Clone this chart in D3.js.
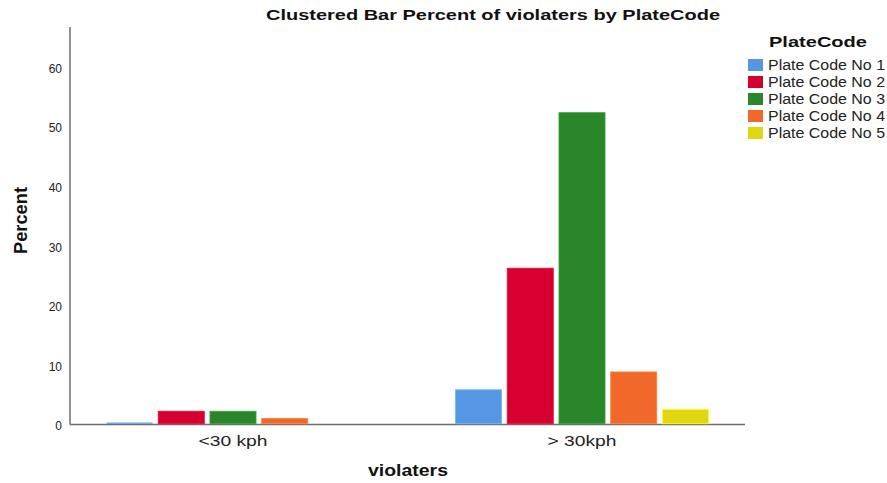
<!DOCTYPE html>
<html>
<head>
<meta charset="utf-8">
<script src="https://cdn.jsdelivr.net/npm/d3@7"></script>
<style>
  html, body { margin: 0; padding: 0; background: #ffffff; }
  svg { display: block; font-family: "Liberation Sans", Arial, sans-serif; }
</style>
</head>
<body>
<svg id="chart" width="887" height="483"></svg>
<script>
// ---- Data ----
const categories = ["<30 kph", "> 30kph"];
const seriesNames = ["Plate Code No 1", "Plate Code No 2", "Plate Code No 3", "Plate Code No 4", "Plate Code No 5"];
const plateCode1 = [0.2, 5.7];
const plateCode2 = [2.1, 26.1];
const plateCode3 = [2.1, 52.2];
const plateCode4 = [0.9, 8.7];
const plateCode5 = [0.0, 2.4];
const yTickValues = [0, 10, 20, 30, 40, 50, 60];
const seriesColors = ["#5597e3", "#d5002f", "#2a862a", "#f0692b", "#e0d611"];

const seriesValues = [plateCode1, plateCode2, plateCode3, plateCode4, plateCode5];

// ---- Layout ----
const svg = d3.select("#chart");
const axisLeftX = 70, axisRightX = 745, axisTopY = 27, zeroY = 424.5;

const y = d3.scaleLinear().domain([0, 66.7]).range([zeroY, axisTopY]);
const x0 = d3.scaleBand().domain(categories).range([58.5, 756.5]).padding(0);
const groupWidth = 253;
const x1 = d3.scaleBand().domain(seriesNames).range([0, groupWidth]).paddingInner(0.11).paddingOuter(0);
const color = d3.scaleOrdinal().domain(seriesNames).range(seriesColors);

// ---- Axes ----
const yAxis = d3.axisLeft(y).tickValues(yTickValues).tickSize(0).tickPadding(8);
const yG = svg.append("g").attr("transform", `translate(${axisLeftX},0)`).call(yAxis);
yG.select(".domain").remove();
yG.selectAll("text")
  .attr("font-family", "Liberation Sans, Arial, sans-serif")
  .attr("font-size", 12)
  .attr("fill", "#222")
  .attr("dy", "0.45em");

svg.append("line")
  .attr("x1", axisLeftX).attr("x2", axisLeftX)
  .attr("y1", axisTopY).attr("y2", zeroY)
  .attr("stroke", "#6e6e6e").attr("stroke-width", 1.5);

const xAxis = d3.axisBottom(x0).tickSize(0).tickPadding(10);
const xG = svg.append("g").attr("transform", `translate(0,${zeroY})`).call(xAxis);
xG.select(".domain").remove();
xG.selectAll("text")
  .attr("font-family", "Liberation Sans, Arial, sans-serif")
  .attr("font-size", 15.5)
  .attr("fill", "#222")
  .attr("textLength", 69)
  .attr("lengthAdjust", "spacingAndGlyphs");

svg.append("line")
  .attr("x1", axisLeftX).attr("x2", axisRightX)
  .attr("y1", zeroY).attr("y2", zeroY)
  .attr("stroke", "#6e6e6e").attr("stroke-width", 1.5);

// ---- Bars ----
const groups = svg.append("g").selectAll("g")
  .data(categories)
  .join("g")
  .attr("transform", c => `translate(${x0(c) + (x0.bandwidth() - groupWidth) / 2},0)`);

groups.selectAll("rect")
  .data((c, ci) => seriesNames.map((s, si) => ({ s, v: seriesValues[si][ci] })))
  .join("rect")
  .attr("x", d => x1(d.s))
  .attr("width", x1.bandwidth())
  .attr("y", d => y(d.v) - 0.75)
  .attr("height", d => d.v > 0 ? Math.max(0, zeroY - y(d.v)) : 0)
  .attr("fill", d => color(d.s))
  .attr("stroke", d => d3.color(color(d.s)).brighter(0.6))
  .attr("stroke-width", d => d.v > 0.5 ? 0.8 : 0);

// ---- Titles ----
svg.append("text")
  .attr("x", 493).attr("y", 20)
  .attr("text-anchor", "middle")
  .attr("font-weight", "bold").attr("font-size", 15.5)
  .attr("fill", "#111")
  .attr("textLength", 454).attr("lengthAdjust", "spacingAndGlyphs")
  .text("Clustered Bar Percent of violaters by PlateCode");

svg.append("text")
  .attr("transform", "translate(27,220.5) rotate(-90)")
  .attr("text-anchor", "middle")
  .attr("font-weight", "bold").attr("font-size", 18)
  .attr("fill", "#111")
  .attr("textLength", 67).attr("lengthAdjust", "spacingAndGlyphs")
  .text("Percent");

svg.append("text")
  .attr("x", 408).attr("y", 476)
  .attr("text-anchor", "middle")
  .attr("font-weight", "bold").attr("font-size", 16.5)
  .attr("fill", "#111")
  .attr("textLength", 80).attr("lengthAdjust", "spacingAndGlyphs")
  .text("violaters");

// ---- Legend ----
const legend = svg.append("g");
legend.append("text")
  .attr("x", 769).attr("y", 47)
  .attr("font-weight", "bold").attr("font-size", 15.5)
  .attr("fill", "#111")
  .attr("textLength", 98).attr("lengthAdjust", "spacingAndGlyphs")
  .text("PlateCode");

const items = legend.selectAll("g.item")
  .data(seriesNames)
  .join("g")
  .attr("class", "item")
  .attr("transform", (d, i) => `translate(748,${59 + i * 17})`);
items.append("rect")
  .attr("width", 15).attr("height", 12)
  .attr("fill", d => color(d));
items.append("text")
  .attr("x", 20).attr("y", 11)
  .attr("font-size", 14)
  .attr("fill", "#222")
  .attr("textLength", 117).attr("lengthAdjust", "spacingAndGlyphs")
  .text(d => d);
</script>
</body>
</html>
